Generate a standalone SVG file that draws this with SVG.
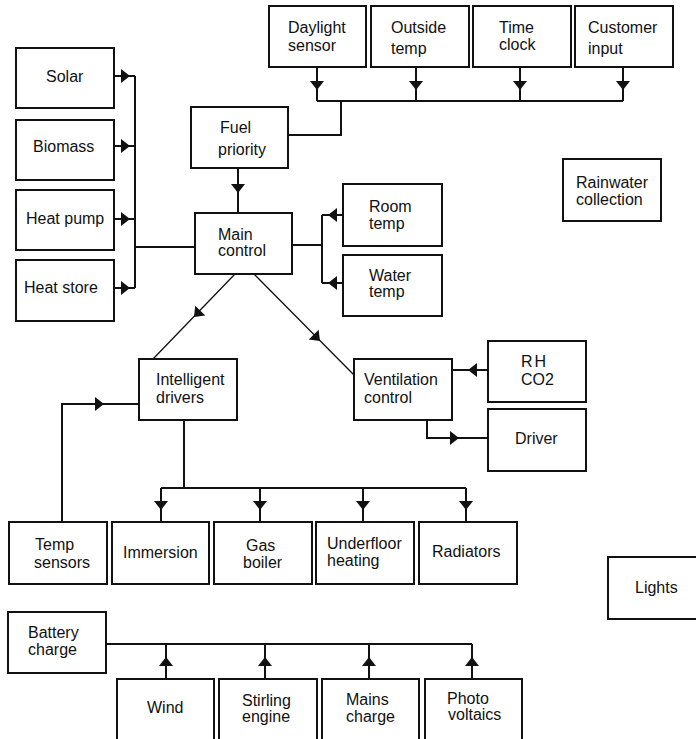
<svg xmlns="http://www.w3.org/2000/svg" xmlns:xlink="http://www.w3.org/1999/xlink" width="696" height="739" viewBox="0 0 696 739">
<style>
.box{fill:#fff;stroke:#111;stroke-width:2}
.ln{fill:none;stroke:#111;stroke-width:2}
.dg{fill:none;stroke:#111;stroke-width:1.3}
.ah{fill:#111}
text{font-family:"Liberation Sans",Arial,sans-serif;font-size:16px;fill:#111}
</style>
<defs>
<path id="ah" d="M0,0 L-9,-7 L-9,7 Z"/>
</defs>
<rect width="696" height="739" fill="#fff"/>
<g id="connectors">
<path class="ln" d="M317,67 V101 M416,67 V101 M520,67 V101 M623,67 V101 M317,101 H623 M341,101 V135 H288"/>
<use class="ah" xlink:href="#ah" transform="translate(317,90) rotate(90)"/>
<use class="ah" xlink:href="#ah" transform="translate(416,90) rotate(90)"/>
<use class="ah" xlink:href="#ah" transform="translate(520,90) rotate(90)"/>
<use class="ah" xlink:href="#ah" transform="translate(623,90) rotate(90)"/>
<path class="ln" d="M238,168 V213"/>
<use class="ah" xlink:href="#ah" transform="translate(238,193) rotate(90)"/>
<path class="ln" d="M114,76 H135 M114,146 H135 M114,219 H135 M114,288 H135 M135,76 V288 M135,247 H195"/>
<use class="ah" xlink:href="#ah" transform="translate(130,76)"/>
<use class="ah" xlink:href="#ah" transform="translate(130,146)"/>
<use class="ah" xlink:href="#ah" transform="translate(130,219)"/>
<use class="ah" xlink:href="#ah" transform="translate(130,288)"/>
<path class="ln" d="M292,245 H322 M322,215 V283 M322,215 H343 M322,283 H343"/>
<use class="ah" xlink:href="#ah" transform="translate(328,215) rotate(180)"/>
<use class="ah" xlink:href="#ah" transform="translate(328,283) rotate(180)"/>
<path class="dg" d="M235,274 L153,359 M254,274 L354,375"/>
<use class="ah" xlink:href="#ah" transform="translate(194,317) rotate(134)"/>
<use class="ah" xlink:href="#ah" transform="translate(320,341) rotate(45.3)"/>
<path class="ln" d="M488,370 H452 M427,420 V438 H488"/>
<use class="ah" xlink:href="#ah" transform="translate(468,370) rotate(180)"/>
<use class="ah" xlink:href="#ah" transform="translate(459,438)"/>
<path class="ln" d="M62,522 V404 H139"/>
<use class="ah" xlink:href="#ah" transform="translate(104,404)"/>
<path class="ln" d="M184,420 V488 M161,488 H466 M161,488 V522 M260,488 V522 M363,488 V522 M466,488 V522"/>
<use class="ah" xlink:href="#ah" transform="translate(161,510) rotate(90)"/>
<use class="ah" xlink:href="#ah" transform="translate(260,510) rotate(90)"/>
<use class="ah" xlink:href="#ah" transform="translate(363,510) rotate(90)"/>
<use class="ah" xlink:href="#ah" transform="translate(466,510) rotate(90)"/>
<path class="ln" d="M106,644 H472 M166,644 V679 M265,644 V679 M369,644 V679 M472,644 V679"/>
<use class="ah" xlink:href="#ah" transform="translate(166,657) rotate(-90)"/>
<use class="ah" xlink:href="#ah" transform="translate(265,657) rotate(-90)"/>
<use class="ah" xlink:href="#ah" transform="translate(369,657) rotate(-90)"/>
<use class="ah" xlink:href="#ah" transform="translate(472,657) rotate(-90)"/>
</g>
<g id="daylight"><rect class="box" x="269" y="6" width="97" height="61"/><text x="288" y="33">Daylight</text><text x="288" y="51">sensor</text></g>
<g id="outside"><rect class="box" x="371" y="6" width="98" height="61"/><text x="391" y="33">Outside</text><text x="391" y="54">temp</text></g>
<g id="timeclock"><rect class="box" x="473" y="6" width="98" height="61"/><text x="499" y="33">Time</text><text x="499" y="50">clock</text></g>
<g id="customer"><rect class="box" x="575" y="6" width="98" height="61"/><text x="588" y="33">Customer</text><text x="588" y="54">input</text></g>
<g id="solar"><rect class="box" x="16" y="48" width="98" height="60"/><text x="46" y="82">Solar</text></g>
<g id="biomass"><rect class="box" x="16" y="120" width="98" height="60"/><text x="33" y="152">Biomass</text></g>
<g id="heatpump"><rect class="box" x="16" y="190" width="98" height="60"/><text x="26" y="224">Heat pump</text></g>
<g id="heatstore"><rect class="box" x="16" y="260" width="98" height="61"/><text x="24" y="293">Heat store</text></g>
<g id="fuel"><rect class="box" x="191" y="107" width="97" height="61"/><text x="220" y="133">Fuel</text><text x="218" y="155">priority</text></g>
<g id="main"><rect class="box" x="195" y="213" width="97" height="61"/><text x="218" y="240">Main</text><text x="218" y="256">control</text></g>
<g id="rainwater"><rect class="box" x="563" y="159" width="98" height="62"/><text x="576" y="188">Rainwater</text><text x="576" y="205">collection</text></g>
<g id="roomtemp"><rect class="box" x="343" y="184" width="99" height="62"/><text x="369" y="212">Room</text><text x="369" y="229">temp</text></g>
<g id="watertemp"><rect class="box" x="343" y="255" width="99" height="61"/><text x="369" y="281">Water</text><text x="369" y="297">temp</text></g>
<g id="intelligent"><rect class="box" x="139" y="359" width="98" height="61"/><text x="156" y="385">Intelligent</text><text x="156" y="403">drivers</text></g>
<g id="ventilation"><rect class="box" x="354" y="359" width="98" height="61"/><text x="364" y="385">Ventilation</text><text x="364" y="403">control</text></g>
<g id="rhco2"><rect class="box" x="488" y="341" width="98" height="61"/><text x="521" y="367" letter-spacing="2">RH</text><text x="521" y="385">CO2</text></g>
<g id="driver"><rect class="box" x="488" y="409" width="98" height="62"/><text x="515" y="444">Driver</text></g>
<g id="tempsensors"><rect class="box" x="9" y="522" width="98" height="62"/><text x="35" y="550">Temp</text><text x="34" y="568">sensors</text></g>
<g id="immersion"><rect class="box" x="112" y="522" width="97" height="62"/><text x="123" y="558">Immersion</text></g>
<g id="gasboiler"><rect class="box" x="214" y="522" width="98" height="62"/><text x="246" y="551">Gas</text><text x="243" y="568">boiler</text></g>
<g id="underfloor"><rect class="box" x="316" y="522" width="98" height="62"/><text x="327" y="549">Underfloor</text><text x="327" y="566">heating</text></g>
<g id="radiators"><rect class="box" x="419" y="522" width="98" height="62"/><text x="432" y="557">Radiators</text></g>
<g id="lights"><rect class="box" x="608" y="557" width="100" height="62"/><text x="635" y="593">Lights</text></g>
<g id="battery"><rect class="box" x="8" y="612" width="98" height="61"/><text x="28" y="638">Battery</text><text x="28" y="655">charge</text></g>
<g id="wind"><rect class="box" x="117" y="679" width="97" height="70"/><text x="147" y="713">Wind</text></g>
<g id="stirling"><rect class="box" x="219" y="679" width="98" height="70"/><text x="242" y="706">Stirling</text><text x="242" y="722">engine</text></g>
<g id="mains"><rect class="box" x="322" y="679" width="97" height="70"/><text x="346" y="705">Mains</text><text x="346" y="722">charge</text></g>
<g id="photo"><rect class="box" x="425" y="679" width="97" height="70"/><text x="447" y="704">Photo</text><text x="448" y="720">voltaics</text></g>
</svg>
